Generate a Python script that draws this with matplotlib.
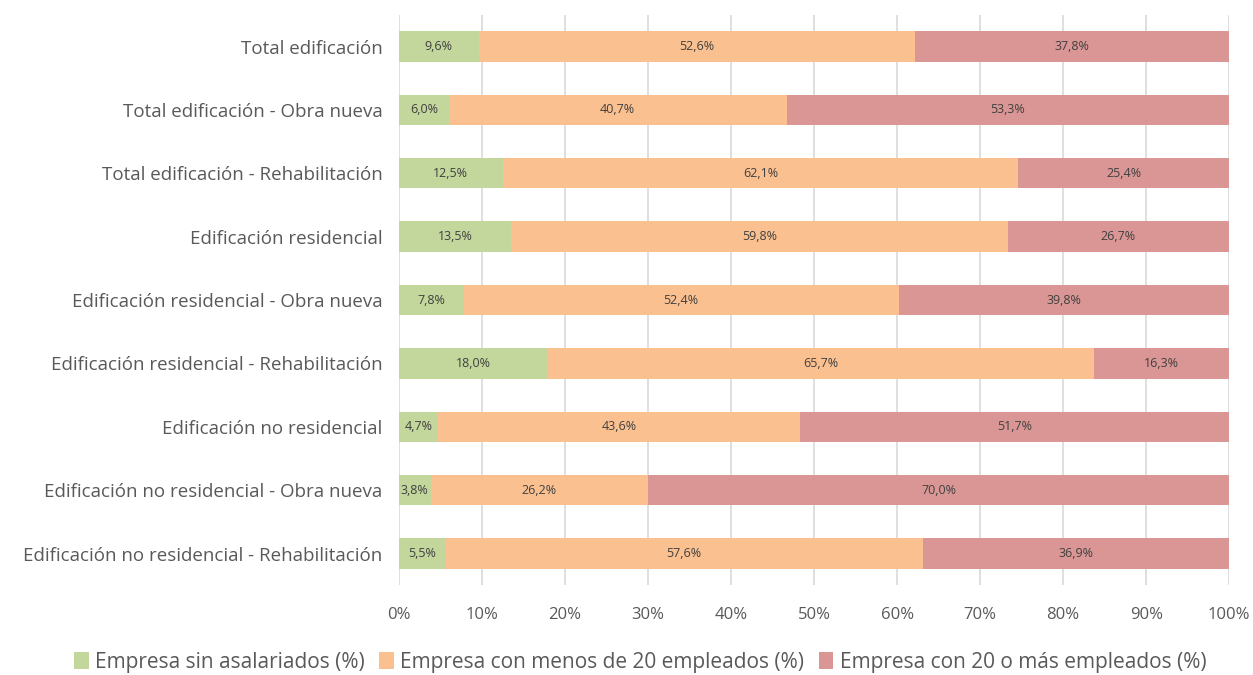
import numpy as np
import matplotlib.pyplot as plt
from matplotlib.ticker import PercentFormatter

categories = [
    "Total edificación",
    "Total edificación - Obra nueva",
    "Total edificación - Rehabilitación",
    "Edificación residencial",
    "Edificación residencial - Obra nueva",
    "Edificación residencial - Rehabilitación",
    "Edificación no residencial",
    "Edificación no residencial - Obra nueva",
    "Edificación no residencial - Rehabilitación",
]
sin_asalariados = [9.6, 6.0, 12.5, 13.5, 7.8, 18.0, 4.7, 3.8, 5.5]
menos_20 = [52.6, 40.7, 62.1, 59.8, 52.4, 65.7, 43.6, 26.2, 57.6]
mas_20 = [37.8, 53.3, 25.4, 26.7, 39.8, 16.3, 51.7, 70.0, 36.9]

series_names = [
    "Empresa sin asalariados (%)",
    "Empresa con menos de 20 empleados (%)",
    "Empresa con 20 o más empleados (%)",
]
colors = ["#C3D69B", "#FAC090", "#D99694"]
text_col = "#595959"

plt.rcParams['font.family'] = ['Open Sans', 'DejaVu Sans']

fig = plt.figure(figsize=(12.53, 6.75), dpi=100)
ax = fig.add_axes([0.3184, 0.133, 0.6626, 0.845])

y = np.arange(len(categories))
left = np.zeros(len(categories))
for name, vals, c in zip(series_names, [sin_asalariados, menos_20, mas_20], colors):
    vals = np.array(vals)
    ax.barh(y, vals, left=left, height=0.48, color=c, label=name, zorder=3)
    for yi, l, v in zip(y, left, vals):
        ax.text(l + v / 2, yi, f"{v:.1f}%".replace(".", ","), ha='center', va='center',
                fontsize=9, color="#404040", zorder=4)
    left += vals

ax.set_ylim(len(categories) - 0.5, -0.5)
ax.set_xlim(0, 100)
ax.set_yticks(y)
ax.set_yticklabels(categories, fontsize=13.5, color=text_col)
ax.set_xticks(np.arange(0, 101, 10))
ax.xaxis.set_major_formatter(PercentFormatter(decimals=0))
ax.tick_params(axis='x', labelsize=12, colors=text_col, length=0, pad=16)
ax.tick_params(axis='y', length=0, pad=12)
ax.grid(axis='x', color="#D9D9D9", linewidth=1.2, zorder=0)
for s in ax.spines.values():
    s.set_visible(False)

fig.legend(loc='center', bbox_to_anchor=(0.511, 0.0185), ncol=3, frameon=False,
           fontsize=15, handlelength=0.7, handleheight=0.9, handletextpad=0.3,
           columnspacing=0.7, labelcolor=text_col)

fig.savefig("out.png", dpi=100)
